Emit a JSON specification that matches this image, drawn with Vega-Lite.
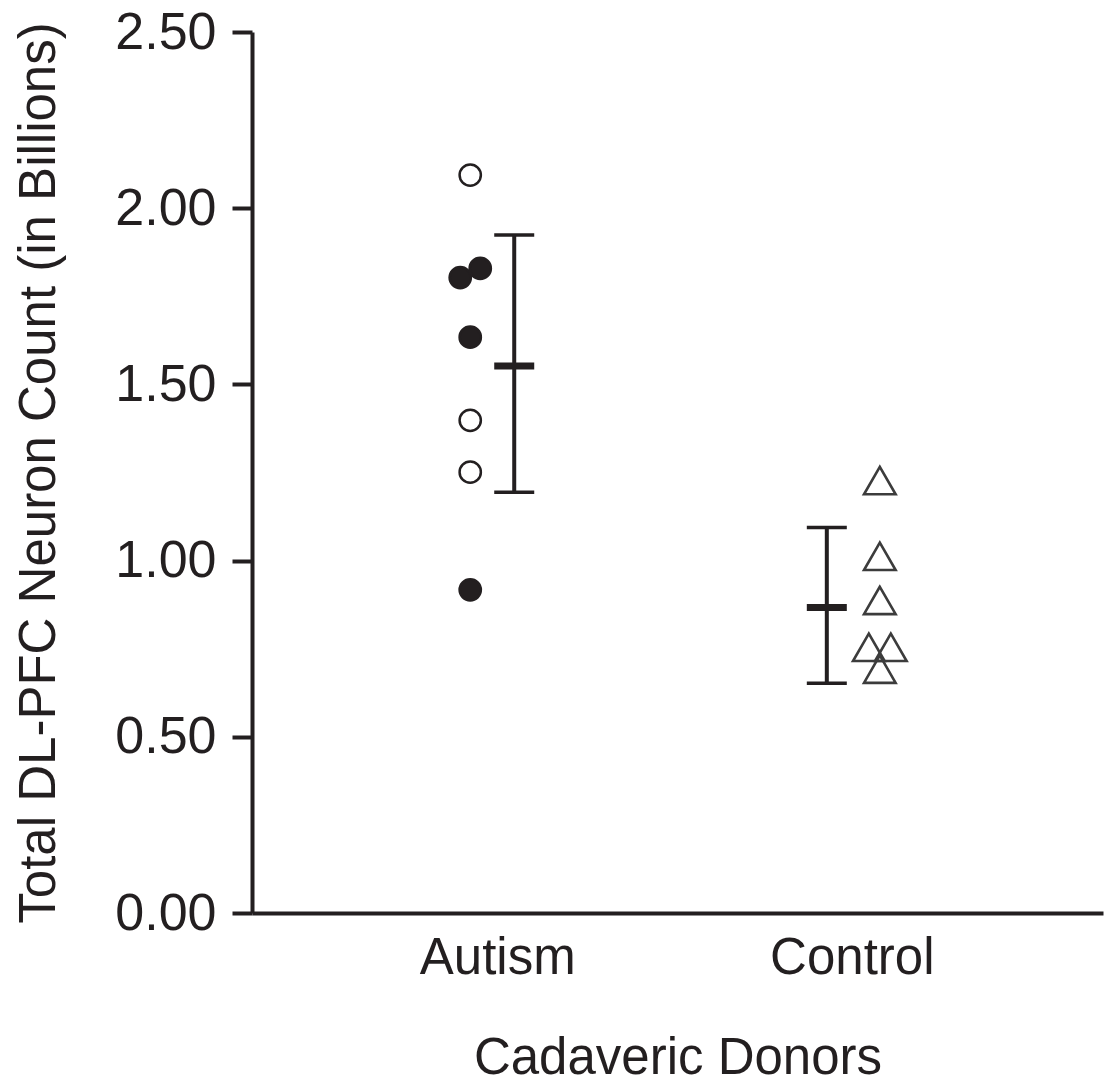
{
  "$schema": "https://vega.github.io/schema/vega-lite/v6.json",
  "width": 851,
  "height": 881,
  "autosize": "none",
  "padding": {"left": 252, "top": 32, "right": 3, "bottom": 175},
  "background": "white",
  "config": {
    "view": {"stroke": null},
    "font": "Liberation Sans",
    "axis": {
      "domainColor": "#231f20",
      "domainWidth": 4,
      "tickColor": "#231f20",
      "tickWidth": 4,
      "labelColor": "#231f20",
      "titleColor": "#231f20",
      "labelFont": "Liberation Sans",
      "titleFont": "Liberation Sans",
      "titleFontWeight": "normal",
      "grid": false
    },
    "axisY": {
      "tickSize": 20,
      "labelPadding": 16,
      "labelFontSize": 52,
      "titleFontSize": 51,
      "titleX": -198,
      "titleBaseline": "alphabetic"
    },
    "axisX": {
      "ticks": false,
      "tickSize": 0,
      "labelPadding": 60,
      "labelBaseline": "alphabetic",
      "labelFontSize": 51,
      "labelAngle": 0,
      "titleFontSize": 51,
      "titleY": 160,
      "titleBaseline": "alphabetic"
    }
  },
  "datasets": {
    "donors": [
      {"group": "Autism", "count": 2.094, "marker": "open", "dodge": "center"},
      {"group": "Autism", "count": 1.803, "marker": "filled", "dodge": "left"},
      {"group": "Autism", "count": 1.829, "marker": "filled", "dodge": "right"},
      {"group": "Autism", "count": 1.634, "marker": "filled", "dodge": "center"},
      {"group": "Autism", "count": 1.398, "marker": "open", "dodge": "center"},
      {"group": "Autism", "count": 1.251, "marker": "open", "dodge": "center"},
      {"group": "Autism", "count": 0.917, "marker": "filled", "dodge": "center"},
      {"group": "Control", "count": 1.227, "marker": "triangle", "dodge": "center"},
      {"group": "Control", "count": 1.012, "marker": "triangle", "dodge": "center"},
      {"group": "Control", "count": 0.887, "marker": "triangle", "dodge": "center"},
      {"group": "Control", "count": 0.754, "marker": "triangle", "dodge": "left"},
      {"group": "Control", "count": 0.754, "marker": "triangle", "dodge": "right"},
      {"group": "Control", "count": 0.692, "marker": "triangle", "dodge": "center"}
    ],
    "summary": [
      {"group": "Autism", "mean": 1.552, "lower": 1.194, "upper": 1.924},
      {"group": "Control", "mean": 0.867, "lower": 0.652, "upper": 1.094}
    ]
  },
  "resolve": {"scale": {"xOffset": "independent"}},
  "layer": [
    {
      "data": {"name": "donors"},
      "transform": [{"filter": "datum.group === 'Autism'"}],
      "mark": {"type": "point", "shape": "circle", "filled": true, "size": 452, "stroke": "#231f20", "strokeWidth": 2.5, "opacity": 1},
      "encoding": {
        "x": {"field": "group", "type": "nominal", "title": "Cadaveric Donors",
              "scale": {"type": "point", "domain": ["Autism", "Control"], "padding": 0.7, "align": 0.494}},
        "xOffset": {"field": "dodge", "type": "nominal",
                    "scale": {"type": "point", "domain": ["left", "center", "right"], "range": [-37, -17], "padding": 0}},
        "y": {"field": "count", "type": "quantitative", "title": "Total DL-PFC Neuron Count (in Billions)",
              "scale": {"domain": [0, 2.5], "nice": false},
              "axis": {"values": [0, 0.5, 1, 1.5, 2, 2.5], "format": ".2f"}},
        "fill": {"field": "marker", "type": "nominal",
                 "scale": {"domain": ["filled", "open"], "range": ["#231f20", "#ffffff"]}, "legend": null}
      }
    },
    {
      "data": {"name": "donors"},
      "transform": [{"filter": "datum.group === 'Control'"}],
      "mark": {"type": "point", "shape": "triangle-up", "filled": false, "size": 1000, "color": "#3c3c3c", "strokeWidth": 2.6, "opacity": 1},
      "encoding": {
        "x": {"field": "group", "type": "nominal", "title": "Cadaveric Donors"},
        "xOffset": {"field": "dodge", "type": "nominal",
                    "scale": {"type": "point", "domain": ["left", "center", "right"], "range": [17, 39], "padding": 0}},
        "y": {"field": "count", "type": "quantitative", "title": "Total DL-PFC Neuron Count (in Billions)"}
      }
    },
    {
      "data": {"name": "summary"},
      "encoding": {
        "x": {"field": "group", "type": "nominal", "title": "Cadaveric Donors"},
        "xOffset": {"field": "group", "type": "nominal",
                    "scale": {"type": "point", "domain": ["Autism", "Control"], "range": [17, -25], "padding": 0}}
      },
      "layer": [
        {
          "mark": {"type": "rule", "color": "#231f20", "strokeWidth": 4},
          "encoding": {
            "y": {"field": "lower", "type": "quantitative", "title": "Total DL-PFC Neuron Count (in Billions)"},
            "y2": {"field": "upper"}
          }
        },
        {
          "mark": {"type": "tick", "color": "#231f20", "size": 40, "thickness": 3.5, "opacity": 1},
          "encoding": {"y": {"field": "lower", "type": "quantitative", "title": "Total DL-PFC Neuron Count (in Billions)"}}
        },
        {
          "mark": {"type": "tick", "color": "#231f20", "size": 40, "thickness": 3.5, "opacity": 1},
          "encoding": {"y": {"field": "upper", "type": "quantitative", "title": "Total DL-PFC Neuron Count (in Billions)"}}
        },
        {
          "mark": {"type": "tick", "color": "#231f20", "size": 40, "thickness": 7, "opacity": 1},
          "encoding": {"y": {"field": "mean", "type": "quantitative", "title": "Total DL-PFC Neuron Count (in Billions)"}}
        }
      ]
    }
  ]
}
